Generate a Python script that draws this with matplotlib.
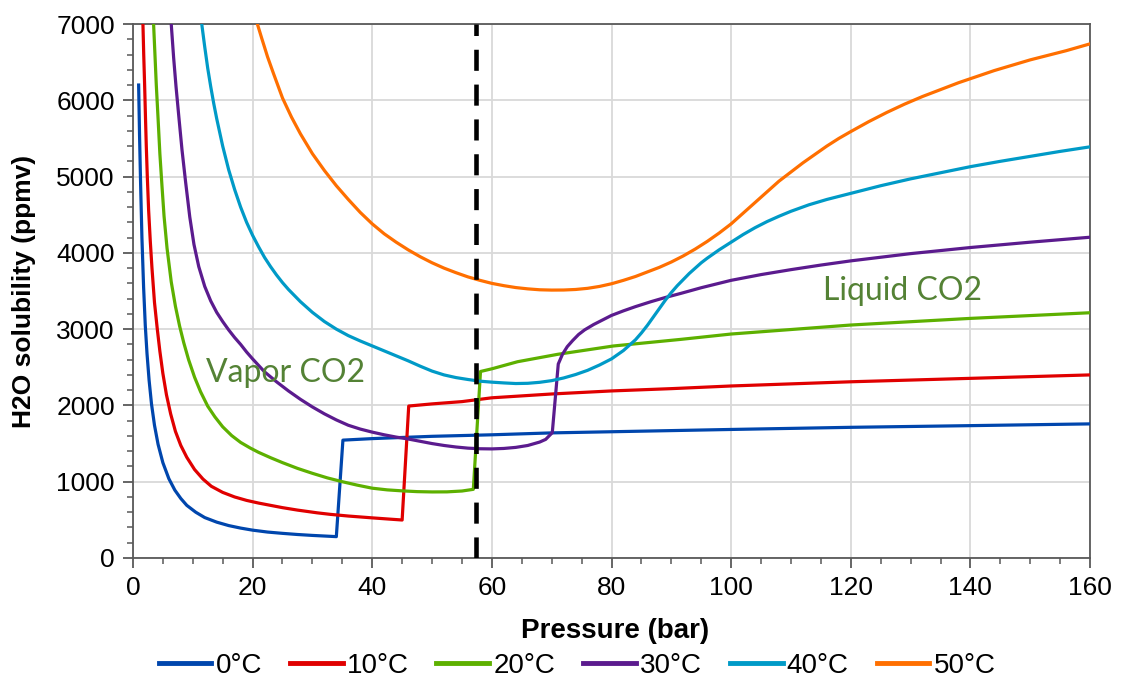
import matplotlib
matplotlib.use("Agg")
import matplotlib.pyplot as plt
from matplotlib.ticker import MultipleLocator


# pressure (bar) / H2O solubility (ppmv)
p_0c = [0.95, 1.1, 1.28, 1.5, 1.78, 2.06, 2.35, 2.7, 3.1, 3.6, 4.2, 5, 6, 7, 8, 9, 10.5, 12, 14, 16, 18, 20, 22.5, 25,
        27.5, 30, 32, 34,
        35.1, 40, 45, 50, 60, 70, 80, 100, 120, 140, 160]
s_0c = [6200, 5550, 4900, 4200, 3550, 3050, 2680, 2330, 2020, 1740, 1490, 1250, 1040, 890, 780, 690, 600, 530, 470, 425, 392, 365, 340, 323,
        308, 296, 288, 280,
        1545, 1565, 1580, 1595, 1615, 1640, 1655, 1685, 1713, 1735, 1758]

p_10c = [1.67, 1.8, 1.95, 2.1, 2.23, 2.4, 2.62, 2.9, 3.18, 3.6, 4.07, 4.5, 5.0, 5.6, 6.3, 7.1, 8, 9, 10.3, 11.7, 13.1, 15, 17, 19,
         21, 23, 25, 27.5, 30.8, 33, 36, 40, 43, 45,
         46.1, 50, 55, 60, 70, 80, 90, 100, 120, 140, 160]
s_10c = [7000, 6600, 6205, 5760, 5400, 5000, 4560, 4150, 3800, 3350, 3000, 2710, 2420, 2140, 1890, 1660, 1475, 1320, 1160, 1035, 940, 860, 800, 755,
         720, 690, 660, 628, 592, 572, 550, 526, 509, 498,
         1992, 2020, 2050, 2100, 2150, 2190, 2220, 2255, 2310, 2355, 2400]

p_20c = [3.45, 3.7, 3.9, 4.2, 4.5, 4.85, 5.2, 5.7, 6.4, 7.1, 7.8, 8.5, 9.3, 10.3, 11.3, 12.5, 13.7, 15, 16.5, 18, 19.6, 21,
         23, 25, 27.5, 30, 32.5, 35, 37.5, 40, 42.5, 45, 47.5, 50, 52.5, 55, 56.9,
         58.1, 60, 64.3, 71, 80.3, 91.6, 100, 120, 140, 160]
s_20c = [7000, 6560, 6205, 5760, 5300, 4880, 4480, 4060, 3620, 3300, 3040, 2820, 2600, 2370, 2180, 1990, 1850, 1720, 1605, 1515, 1442, 1385,
         1315, 1250, 1175, 1110, 1050, 1000, 955, 915, 893, 880, 870, 866, 867, 878, 900,
         2445, 2480, 2573, 2670, 2779, 2866, 2936, 3054, 3141, 3215]

p_30c = [6.4, 6.8, 7.2, 7.7, 8.2, 8.8, 9.5, 10.2, 11, 12, 13, 14, 15, 16, 17, 18, 19, 20, 22, 24, 26, 28, 30, 32, 34, 36,
         38, 40, 42, 44, 46, 48, 50, 52, 54, 56, 58, 60, 62, 64, 66, 68, 69, 70.1,
         71.1, 71.8, 72.6, 73.5, 74.5, 75.5, 77, 78.5, 80, 82, 84, 86.6, 89, 91.6, 95, 100, 105, 110, 115, 120, 130, 140, 150, 160]
s_30c = [7000, 6560, 6180, 5760, 5350, 4930, 4470, 4110, 3820, 3560, 3370, 3220, 3100, 2990, 2890, 2800, 2700, 2610, 2440, 2310, 2190, 2080, 1980, 1890, 1810, 1740,
         1690, 1650, 1615, 1585, 1560, 1530, 1500, 1475, 1455, 1440, 1432, 1430, 1436, 1450, 1475, 1520, 1555, 1643,
         2543, 2670, 2770, 2850, 2930, 2990, 3060, 3120, 3180, 3240, 3295, 3360, 3415, 3469, 3543, 3640, 3715, 3780, 3840, 3895, 3990, 4070, 4140, 4205]

p_40c = [11.5, 12, 12.5, 13, 13.5, 14, 15, 16, 17, 18, 19, 20, 21, 22, 23, 24, 25, 26, 28, 30, 32, 34, 36, 38, 40, 42, 44,
         46, 48, 50, 52, 54, 56, 58, 60, 62, 64, 66, 68, 70, 72, 74, 76, 78, 80, 82, 84, 85, 86, 87, 88, 89, 90, 91, 92, 93,
         94, 95, 96, 98, 100, 102, 104, 106, 108, 110, 113, 116, 120, 125, 130, 135, 140, 145, 150, 155, 160]
s_40c = [7000, 6700, 6420, 6180, 5960, 5760, 5400, 5090, 4830, 4600, 4400, 4230, 4080, 3940, 3820, 3710, 3610, 3520, 3360, 3220, 3100, 3000, 2915, 2845, 2780, 2715, 2650,
         2585, 2515, 2450, 2400, 2365, 2340, 2318, 2305, 2295, 2287, 2290, 2303, 2325, 2360, 2405, 2460, 2530, 2610, 2720, 2860, 2950, 3050, 3160, 3270, 3380, 3480, 3570, 3650, 3730,
         3800, 3870, 3930, 4040, 4140, 4240, 4330, 4410, 4480, 4545, 4630, 4700, 4780, 4880, 4970, 5050, 5130, 5200, 5265, 5330, 5390]

p_50c = [20.8, 21.5, 22.5, 23.5, 25, 26.5, 28, 30, 32, 34, 36, 38, 40, 42, 44, 46, 48, 50, 52, 54, 56, 58, 60, 62, 64, 66,
         68, 70, 72, 74, 76, 78, 80, 82, 84, 86, 88, 90, 92, 94, 96, 98, 100, 102, 104, 106, 108, 110, 112, 114, 116, 118,
         120, 123, 126, 129, 132, 135, 138, 141, 144, 147, 150, 153, 156, 160]
s_50c = [7000, 6820, 6570, 6350, 6030, 5780, 5560, 5300, 5080, 4880, 4700, 4530, 4380, 4250, 4140, 4040, 3950, 3870, 3800, 3740, 3685, 3640, 3600, 3570, 3545, 3528,
         3516, 3512, 3513, 3520, 3535, 3560, 3595, 3640, 3690, 3750, 3810, 3880, 3960, 4050, 4150, 4260, 4380, 4520, 4660, 4800, 4940, 5060, 5180, 5290, 5400, 5500,
         5590, 5720, 5840, 5950, 6050, 6140, 6230, 6310, 6390, 6460, 6530, 6590, 6650, 6740]

labels = ["0°C", "10°C", "20°C", "30°C", "40°C", "50°C"]
colors = ["#0046AD", "#E00000", "#5DB000", "#5B1B8E", "#009AC7", "#FF6F00"]

# vapour / liquid boundary marked by the dashed line
boundary_p = 57.3


def main():
    plt.rcParams['font.family'] = ['Liberation Sans', 'DejaVu Sans']

    fig = plt.figure(figsize=(11.21, 6.86), dpi=100)
    ax = fig.add_axes([0.1186, 0.1866, 0.8538, 0.7784])

    series = [(p_0c, s_0c), (p_10c, s_10c), (p_20c, s_20c),
              (p_30c, s_30c), (p_40c, s_40c), (p_50c, s_50c)]
    for (p, s), lab, col in zip(series, labels, colors):
        ax.plot(p, s, color=col, lw=2.3, label=lab, solid_joinstyle='round', zorder=3)

    ax.axvline(boundary_p, color='black', lw=3.3, dashes=(4.6, 3.0), zorder=4)

    ax.text(12.2, 2430, "Vapor CO2", color='#548235', fontsize=23,
            family=['Lato', 'DejaVu Sans'], va='center', ha='left')
    ax.text(115.3, 3500, "Liquid CO2", color='#548235', fontsize=23,
            family=['Lato', 'DejaVu Sans'], va='center', ha='left')

    ax.set_xlim(0, 160)
    ax.set_ylim(0, 7000)
    ax.xaxis.set_major_locator(MultipleLocator(20))
    ax.xaxis.set_minor_locator(MultipleLocator(5))
    ax.yaxis.set_major_locator(MultipleLocator(1000))
    ax.yaxis.set_minor_locator(MultipleLocator(200))

    ax.grid(True, which='major', color='#D9D9D9', lw=1.3, zorder=0)
    ax.set_axisbelow(True)
    for sp in ax.spines.values():
        sp.set_color('#595959')
        sp.set_linewidth(1.3)

    ax.tick_params(which='major', direction='out', length=7, width=1.3, color='#595959',
                   labelsize=19, pad=6)
    ax.tick_params(which='minor', direction='out', length=4, width=1.1, color='#595959')

    ax.set_xlabel("Pressure (bar)", fontsize=20, fontweight='bold')
    ax.xaxis.set_label_coords(0.504, -0.112)
    ax.set_ylabel("H2O solubility (ppmv)", fontsize=19, fontweight='bold')
    ax.yaxis.set_label_coords(-0.101, 0.5)

    leg = fig.legend(*ax.get_legend_handles_labels(), loc='center', bbox_to_anchor=(577 / 1121, 0.029),
                     ncol=6, frameon=False, fontsize=20, handlelength=1.9, handletextpad=0.15,
                     columnspacing=1.0)
    for line in leg.get_lines():
        line.set_linewidth(3.5)

    fig.savefig("out.png", dpi=100)


if __name__ == "__main__":
    main()
